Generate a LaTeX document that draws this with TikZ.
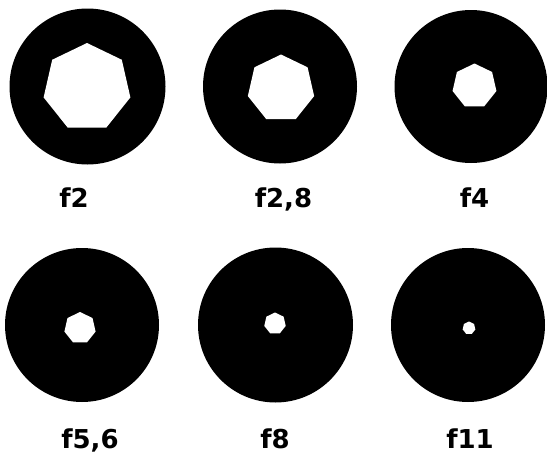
\documentclass[tikz,border=0pt]{standalone}
\usepackage{fontspec}
\setmainfont{DejaVu Sans}
\usetikzlibrary{shapes.geometric}

\tikzset{
  disc/.style={circle, fill=black, inner sep=0pt, outer sep=0pt},
  hole/.style={regular polygon, regular polygon sides=7, fill=white, inner sep=0pt, outer sep=0pt},
  fnum/.style={anchor=base, inner sep=0pt, font=\bfseries\fontsize{26}{30}\selectfont}
}

\begin{document}
\begin{tikzpicture}[x=1pt, y=-1pt]
      % \draw[help lines, gray!50, very thin] (0,0) grid[step=50] (547,455);
      \useasboundingbox (0,0) rectangle (547,455);

      \node[disc, minimum size=156pt] (d1) at (87.5,86.5) {};
      \node[hole, minimum size=89pt] (h1) at (87,87.5) {};
      \node[fnum] (l1) at (74,207) {f2};

      \node[disc, minimum size=154pt] (d2) at (280,86.5) {};
      \node[hole, minimum size=68pt] (h2) at (281,88.5) {};
      \node[fnum] (l2) at (283.5,207) {f2,8};

      \node[disc, minimum size=153pt] (d3) at (471,86.5) {};
      \node[hole, minimum size=45pt] (h3) at (474.5,86) {};
      \node[fnum] (l3) at (474.5,207) {f4};

      \node[disc, minimum size=154pt] (d4) at (82,325) {};
      \node[hole, minimum size=32pt] (h4) at (80,328) {};
      \node[fnum] (l4) at (90,448.5) {f5,6};

      \node[disc, minimum size=155pt] (d5) at (275.5,325) {};
      \node[hole, minimum size=22pt] (h5) at (275,323.5) {};
      \node[fnum] (l5) at (275,448.5) {f8};

      \node[disc, minimum size=154pt] (d6) at (468,325) {};
      \node[hole, minimum size=13pt] (h6) at (469,328) {};
      \node[fnum] (l6) at (470,448.5) {f11};
    \end{tikzpicture}
\end{document}
